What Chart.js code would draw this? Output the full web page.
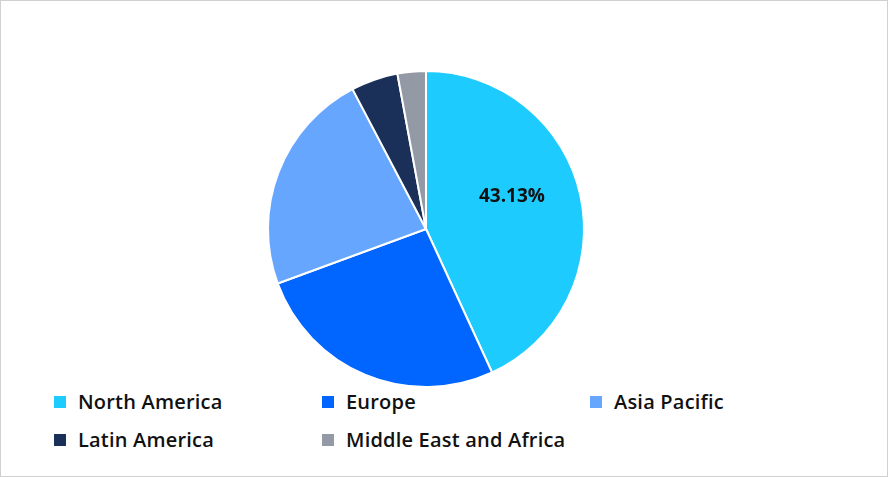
<!DOCTYPE html>
<html><head><meta charset="utf-8">
<script src="https://cdn.jsdelivr.net/npm/chart.js"></script>
<style>
body{margin:0;background:#fff;font-family:"Open Sans","Noto Sans",sans-serif;}
#frame{position:absolute;left:0;top:0;width:886px;height:475px;border:1px solid #d0d0d0;}
#wrap{position:absolute;left:0;top:70px;width:852px;height:318px;}
.lg{position:absolute;font-size:20px;font-weight:600;color:#111;display:flex;align-items:center;letter-spacing:0.2px;}
.sw{width:12px;height:12px;margin-right:12px;}
</style></head><body>
<div id="frame"></div>
<div id="wrap"><canvas id="c"></canvas></div>
<div id="legend"></div>
<script>
const categories=["North America","Europe","Asia Pacific","Latin America","Middle East and Africa"];
const values=[43.13,26.27,22.9,4.8,2.9];
const colors=["#1ecbff","#0066ff","#66a6ff","#1b3059","#9499a6"];
const legendPos=[[54,402],[322,402],[590,402],[54,440],[322,440]];
const lg=document.getElementById('legend');
categories.forEach((c,i)=>{const d=document.createElement('div');d.className='lg';d.style.left=legendPos[i][0]+'px';d.style.top=(legendPos[i][1]-14)+'px';d.innerHTML='<span class="sw" style="background:'+colors[i]+'"></span>'+c;lg.appendChild(d);});
const lbl={id:'lbl',afterDatasetsDraw(ch){const a=ch.getDatasetMeta(0).data[0];const p=a.getProps(['x','y','startAngle','endAngle','outerRadius']);const m=(p.startAngle+p.endAngle)/2-0.14;const r=p.outerRadius*0.58;const x=p.x+Math.cos(m)*r,y=p.y+Math.sin(m)*r;const g=ch.ctx;g.save();g.font='bold 19px "Open Sans"';g.fillStyle='#111';g.textAlign='center';g.textBaseline='middle';g.fillText(values[0].toFixed(2)+'%',x,y);g.restore();}};
new Chart(document.getElementById('c'),{type:'pie',data:{labels:categories,datasets:[{data:values,backgroundColor:colors,borderColor:'#fff',borderWidth:2}]},
options:{responsive:true,maintainAspectRatio:false,animation:false,layout:{padding:0},plugins:{legend:{display:false},tooltip:{enabled:false}}},plugins:[lbl]});
</script></body></html>
